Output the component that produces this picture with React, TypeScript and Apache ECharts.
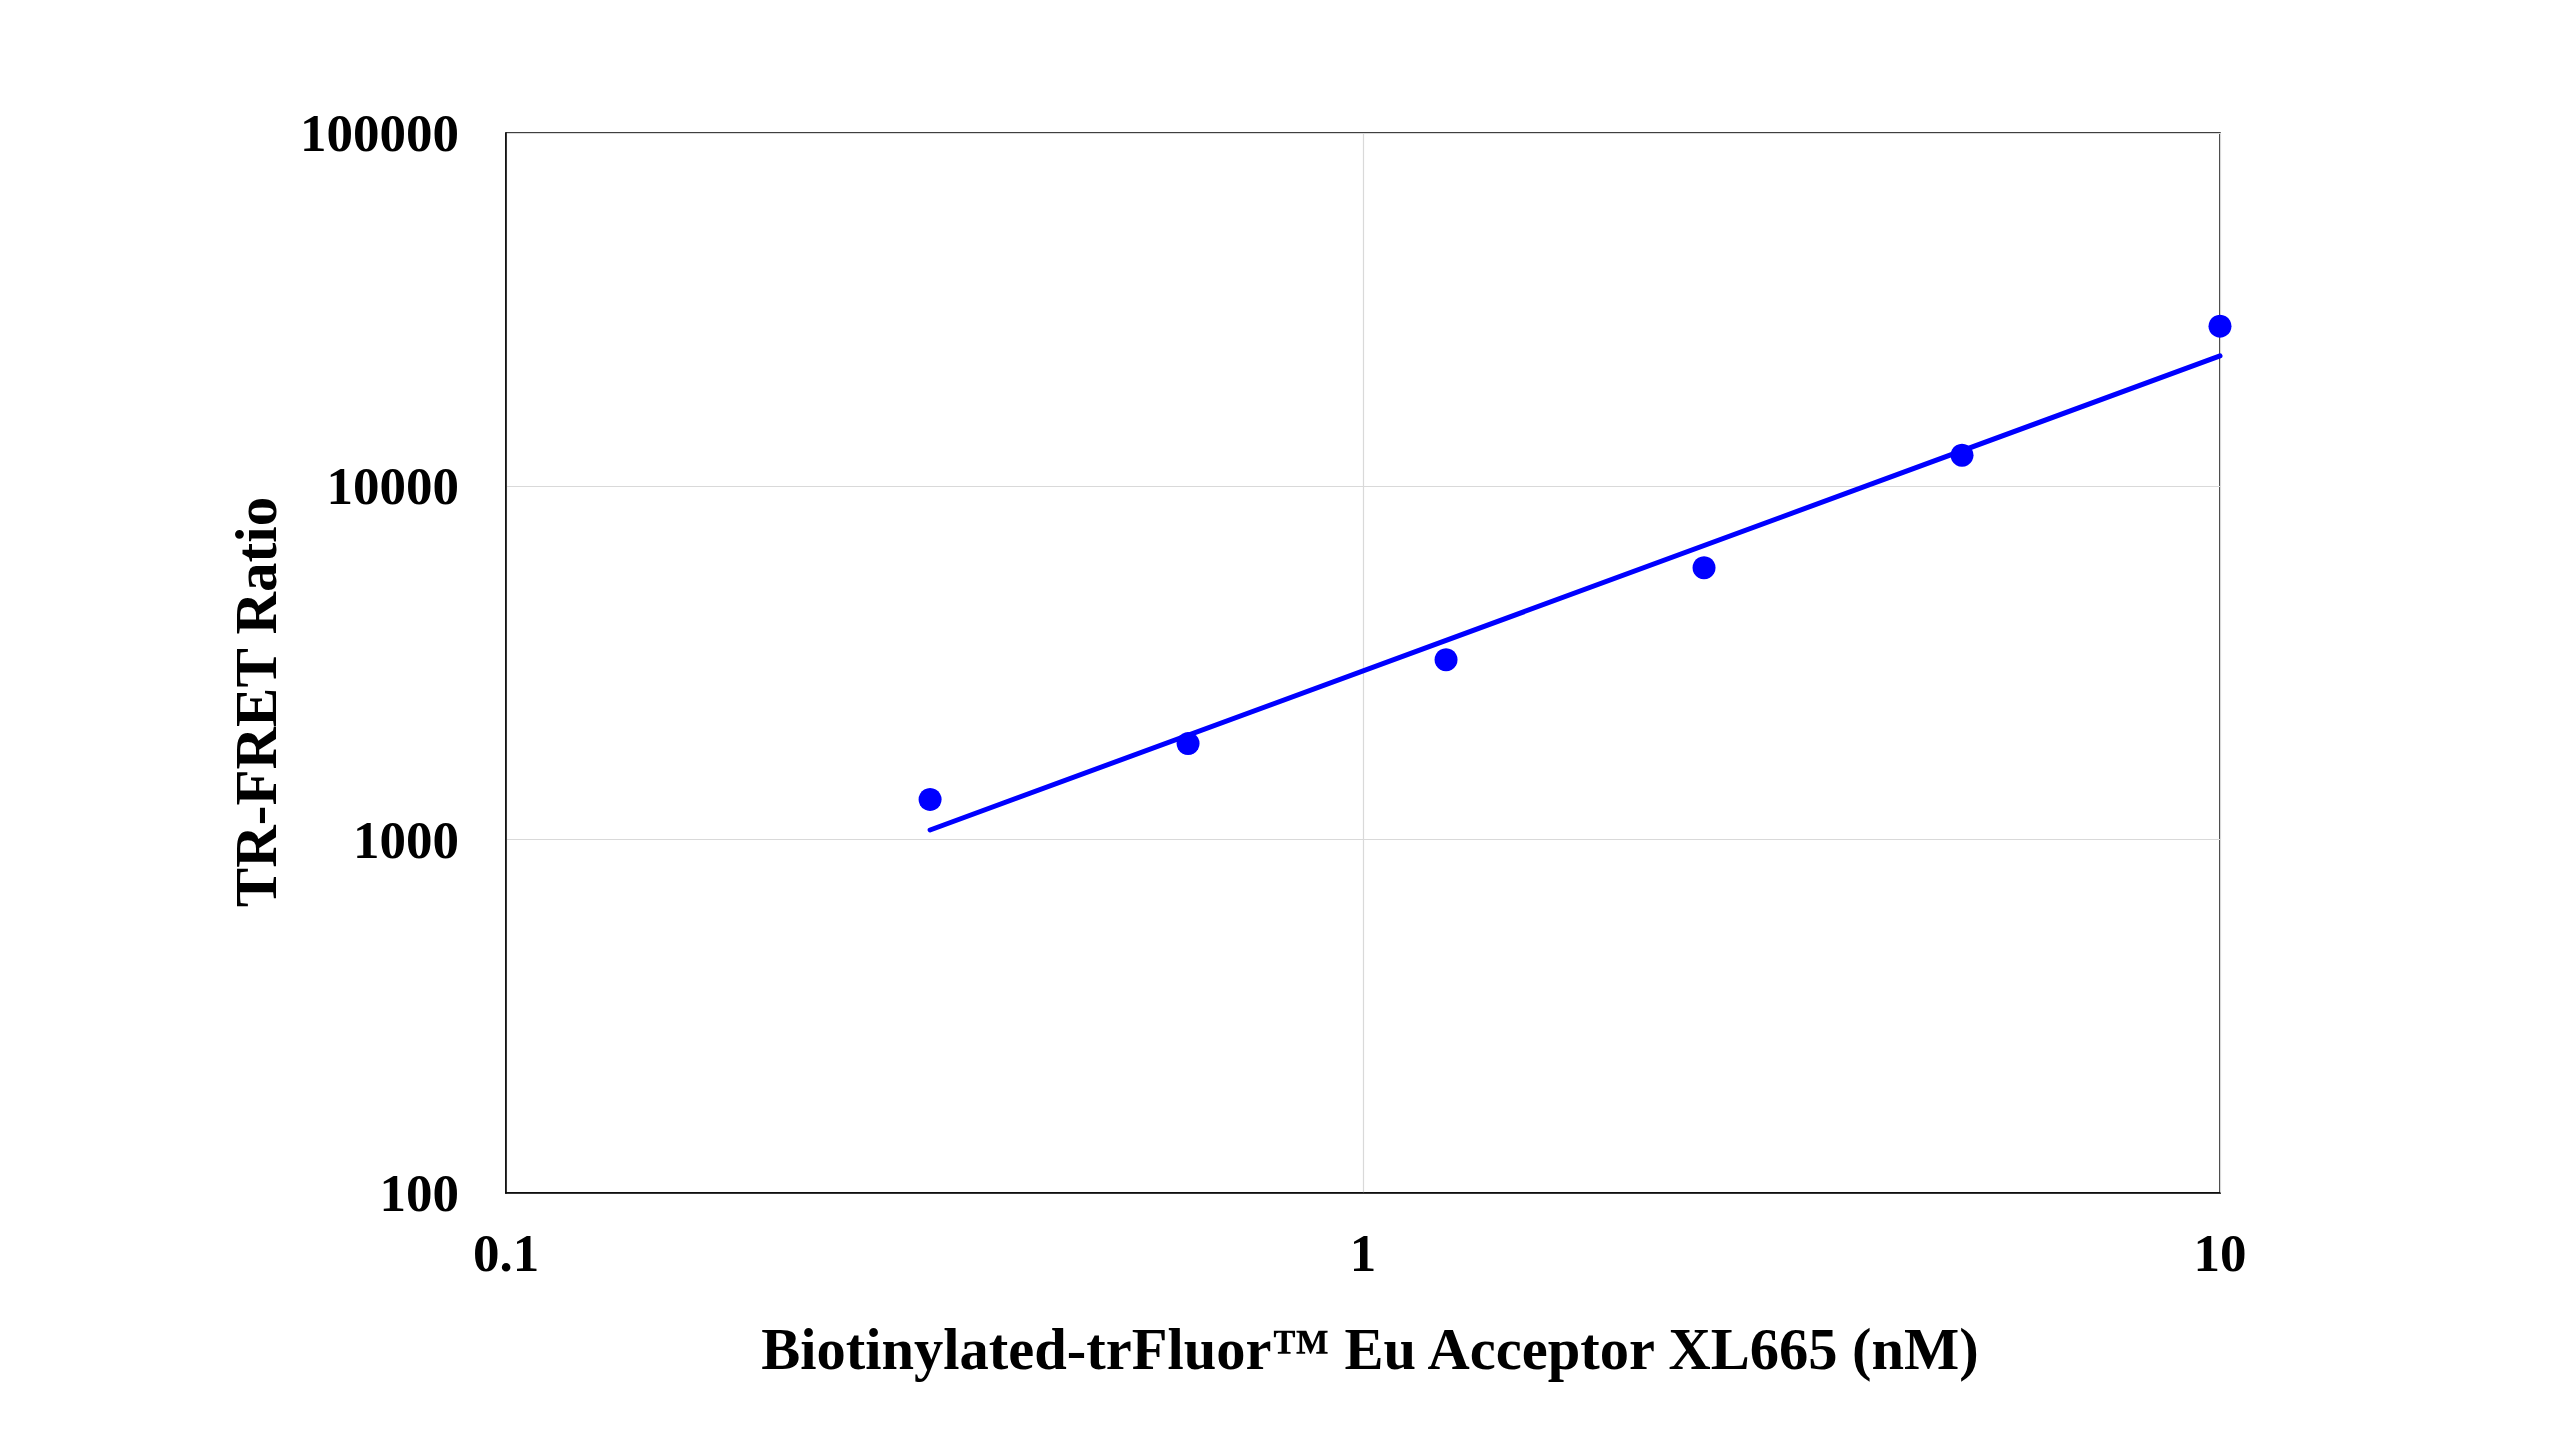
import React, { useEffect, useRef } from "react";
import * as echarts from "echarts";

const concentrations = [0.3125, 0.625, 1.25, 2.5, 5, 10];
const ratios = [1300, 1870, 3230, 5880, 12250, 28400];
const fitX = [0.3125, 10];
const fitY = [1065, 23400];
const xTickLabels = ["0.1", "1", "10"];
const yTickLabels = ["100", "1000", "10000", "100000"];

const FONT = "'Liberation Serif', 'Times New Roman', serif";

export default function App() {
  const ref = useRef<HTMLDivElement>(null);
  useEffect(() => {
    document.body.style.margin = "0";
    if (!ref.current) return;
    const chart = echarts.init(ref.current, undefined, { renderer: "svg" });
    const labelStyle = { fontFamily: FONT, fontWeight: "bold" as const, fontSize: 53, color: "#000" };
    chart.setOption({
      animation: false,
      backgroundColor: "#fff",
      grid: {
        left: 506,
        top: 133,
        right: 334,
        bottom: 247,
        show: true,
        borderColor: "#000",
        borderWidth: 1.5,
        backgroundColor: "transparent",
      },
      graphic: [
        {
          type: "text",
          x: 256,
          y: 702,
          rotation: Math.PI / 2,
          style: {
            text: "TR-FRET Ratio",
            align: "center",
            verticalAlign: "middle",
            font: `bold 59px ${FONT}`,
            fill: "#000",
          },
        },
        {
          type: "text",
          x: 1370,
          y: 1349,
          style: {
            text: "Biotinylated-trFluor™ Eu Acceptor XL665 (nM)",
            align: "center",
            verticalAlign: "middle",
            font: `bold 58.5px ${FONT}`,
            fill: "#000",
          },
        },
      ],
      xAxis: {
        type: "log",
        logBase: 10,
        min: 0.1,
        max: 10,
        axisLine: { show: true, lineStyle: { color: "#000", width: 1.5 } },
        axisTick: { show: false },
        minorTick: { show: false },
        axisLabel: {
          ...labelStyle,
          margin: 33,
          formatter: (v: number) => {
            const i = Math.round(Math.log10(v)) + 1;
            return xTickLabels[i] ?? String(v);
          },
        },
        splitLine: { show: true, lineStyle: { color: "#d9d9d9", width: 1.2 } },
      },
      yAxis: {
        type: "log",
        logBase: 10,
        min: 100,
        max: 100000,
        axisLine: { show: true, lineStyle: { color: "#000", width: 1.5 } },
        axisTick: { show: false },
        minorTick: { show: false },
        axisLabel: {
          ...labelStyle,
          margin: 47,
          formatter: (v: number) => {
            const i = Math.round(Math.log10(v)) - 2;
            return yTickLabels[i] ?? String(v);
          },
        },
        splitLine: { show: true, lineStyle: { color: "#d9d9d9", width: 1.2 } },
      },
      series: [
        {
          type: "line",
          data: fitX.map((x, i) => [x, fitY[i]]),
          showSymbol: false,
          symbol: "none",
          lineStyle: { color: "#0000ff", width: 5, cap: "round" },
          z: 2,
        },
        {
          type: "scatter",
          data: concentrations.map((x, i) => [x, ratios[i]]),
          symbol: "circle",
          symbolSize: 23,
          itemStyle: { color: "#0000ff", opacity: 1 },
          z: 3,
        },
      ],
    });
    return () => chart.dispose();
  }, []);
  return <div ref={ref} style={{ width: 2554, height: 1440 }} />;
}
